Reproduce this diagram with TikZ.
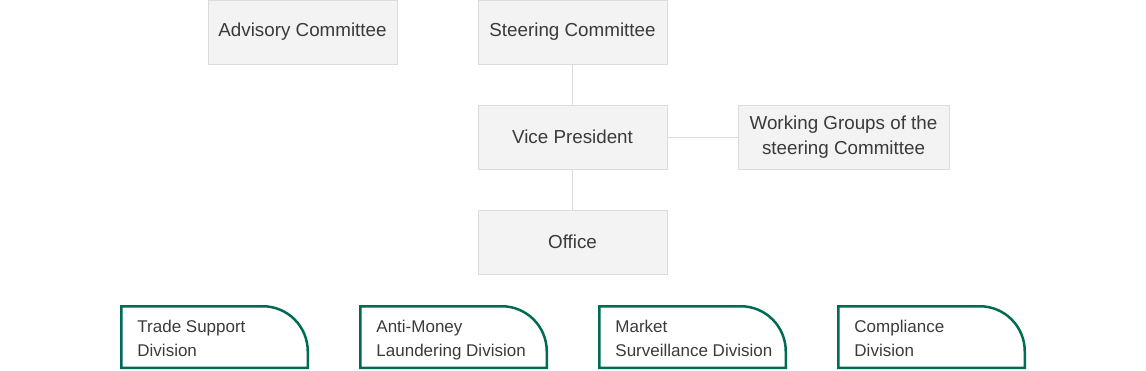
\documentclass[tikz,border=0pt]{standalone}
\usepackage{fontspec}
\setmainfont{Liberation Sans}
\definecolor{boxfill}{HTML}{F3F3F3}
\definecolor{boxline}{HTML}{DCDCDC}
\definecolor{txt}{HTML}{3A3A3A}
\definecolor{divgreen}{HTML}{006B54}
\begin{document}
\begin{tikzpicture}[x=1pt,y=-1pt,
  orgbox/.style={draw=boxline,fill=boxfill,line width=1pt,minimum width=189pt,minimum height=64pt,
    inner sep=0pt,text=txt,font=\fontsize{18.8}{25}\selectfont,align=center},
  conn/.style={draw=boxline,line width=1pt},
  divline/.style={draw=divgreen,line width=2.5pt},
  divtext/.style={anchor=north west,inner sep=0pt,text=txt,font=\fontsize{17}{24}\selectfont,align=left}]
\useasboundingbox (0,0) rectangle (1146,370);
\node[orgbox] (adv) at (302.5,32) {Advisory Committee};
\node[orgbox] (steer) at (572.5,32) {Steering Committee};
\node[orgbox] (vp) at (572.5,137) {Vice President};
\node[orgbox,minimum width=211pt] (wg) at (843.5,137) {Working Groups of the\\steering Committee};
\node[orgbox] (office) at (572.5,242) {Office};
\draw[conn] (steer) -- (vp);
\draw[conn] (vp) -- (office);
\draw[conn] (vp) -- (wg);
\foreach \l/\name/\txt in {121.25/trade/{Trade Support\\Division},360.25/aml/{Anti-Money\\Laundering Division},599.25/market/{Market\\Surveillance Division},838.25/comp/{Compliance\\Division}}{
  \draw[divline] (\l,367.75) -- (\l,306.25) -- ({\l+186.5-45},306.25) arc[start angle=270,end angle=360,radius=45] -- ({\l+186.5},367.75) -- cycle;
  \node[divtext] (\name) at ({\l+16},319.5) {\txt};
}
\end{tikzpicture}
\end{document}
